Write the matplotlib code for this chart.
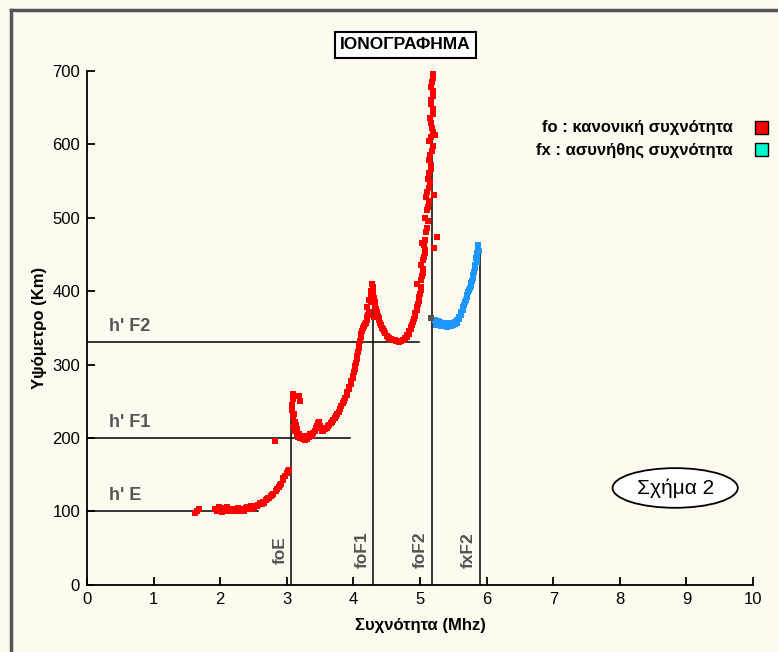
import matplotlib.pyplot as plt
from matplotlib.patches import Ellipse, Rectangle
from matplotlib.lines import Line2D

plt.rcParams['font.family'] = ['Liberation Sans Narrow', 'Liberation Sans', 'DejaVu Sans']

# fo trace (red): frequency in MHz, virtual height in km
fo_f = [1.62, 1.65, 1.68, 1.92, 1.95, 1.98, 2.02, 2.05, 2.08, 2.10, 2.13, 2.16, 2.20, 2.23,
        2.26, 2.30, 2.33, 2.36, 2.40, 2.43, 2.46, 2.50, 2.53, 2.57, 2.60, 2.64, 2.68, 2.72,
        2.76, 2.80, 2.84, 2.88, 2.91, 2.94, 2.97, 3.00, 3.03,
        1.97, 2.00, 2.07, 2.12, 2.18, 2.25, 2.28, 2.35, 2.38, 2.45, 2.48, 2.55, 2.62, 2.66,
        2.70, 2.74, 2.78, 2.86, 2.90, 2.95, 3.02,
        2.82, 3.08, 3.08, 3.09, 3.10, 3.19, 3.20, 3.10, 3.12, 3.10, 3.13, 3.15, 3.17, 3.20,
        3.24, 3.27, 3.30, 3.33, 3.37, 3.40, 3.44, 3.47, 3.50, 3.53, 3.57, 3.60, 3.64, 3.68,
        3.72, 3.76, 3.80, 3.84, 3.88, 3.91, 3.94, 3.97, 4.00, 4.02, 4.04, 4.06, 4.08, 4.10,
        4.12, 4.15, 4.18, 4.20, 4.22, 4.20, 4.23, 4.26, 4.28, 4.29, 4.30, 4.32, 4.33, 4.35,
        4.37, 4.39, 4.41, 4.44, 4.47, 4.50, 4.54, 4.58, 4.62, 4.66, 4.70, 4.74, 4.78, 4.81,
        4.84, 4.87, 4.90, 4.92, 4.95, 4.97, 4.99, 5.01, 4.96, 5.03, 5.05, 5.04, 5.07, 5.06,
        5.25, 5.09, 5.12, 5.10, 5.13, 5.11, 5.15, 5.13, 5.17, 5.15, 5.19, 5.16, 5.18, 5.15,
        5.19, 5.17, 5.20, 5.18, 5.19, 4.24, 4.31,
        3.11, 3.14, 3.16, 3.18, 3.22, 3.26, 3.29, 3.35, 3.38, 3.42, 3.46, 3.49, 3.52, 3.55,
        3.62, 3.66, 3.70, 3.74, 3.78, 3.82, 3.86, 3.90, 3.93, 3.96, 3.99, 4.01, 4.03, 4.05,
        4.07, 4.09, 4.11, 4.13, 4.16, 4.19, 4.21, 4.24, 4.26, 4.27, 4.30, 4.31, 4.34, 4.36,
        4.38, 4.40, 4.43, 4.46, 4.52, 4.56, 4.60, 4.64, 4.68, 4.72, 4.76, 4.80, 4.83, 4.86,
        4.88, 4.91, 4.93, 4.96, 4.98, 5.00, 5.02, 5.01, 5.04, 5.02, 5.06, 5.08, 5.03, 5.08,
        5.11, 5.07, 5.12, 5.09, 5.14, 5.12, 5.16, 5.14, 5.18, 5.13, 5.19, 5.16, 5.20, 5.16,
        5.19, 5.17, 5.20, 5.21, 5.21, 5.22]
fo_h = [98, 101, 103, 104, 100, 106, 99, 103, 101, 106, 102, 104, 100, 103,
        105, 101, 104, 103, 106, 104, 107, 106, 108, 109, 111, 113, 115, 118,
        121, 124, 128, 133, 138, 143, 148, 153, 157,
        102, 104, 105, 100, 103, 101, 104, 101, 105, 103, 104, 107, 110, 112,
        117, 119, 123, 131, 136, 146, 155,
        196, 238, 245, 253, 260, 257, 250, 228, 222, 215, 210, 205, 202, 200,
        198, 197, 199, 202, 205, 207, 214, 220, 216, 210, 212, 214, 218, 222,
        227, 233, 240, 247, 255, 262, 270, 277, 285, 294, 302, 312, 322, 332,
        342, 350, 355, 360, 368, 378, 388, 400, 410, 405, 395, 385, 378, 372,
        366, 360, 354, 348, 343, 339, 336, 334, 333, 332, 332, 333, 336, 340,
        345, 351, 358, 366, 374, 383, 392, 401, 410, 420, 430, 442, 452, 462,
        474, 480, 495, 510, 522, 535, 548, 560, 572, 585, 598, 610, 622, 635,
        648, 660, 672, 684, 696, 372, 365,
        232, 218, 212, 206, 203, 201, 203, 206, 203, 210, 216, 222, 213, 209,
        216, 220, 225, 230, 236, 244, 251, 259, 266, 273, 281, 290, 298, 307,
        317, 327, 337, 346, 352, 357, 364, 372, 385, 395, 402, 390, 375, 369,
        363, 357, 350, 345, 337, 335, 333, 332, 331, 332, 334, 338, 342, 348,
        354, 362, 370, 378, 387, 396, 405, 415, 425, 436, 446, 456, 466, 470,
        486, 500, 515, 528, 540, 553, 566, 578, 591, 604, 616, 628, 641, 654,
        666, 678, 690, 530, 458, 612]

# fx trace (blue)
fx_f = [5.22, 5.25, 5.28, 5.30, 5.33, 5.36, 5.39, 5.42, 5.45, 5.48, 5.50, 5.53, 5.56, 5.59,
        5.62, 5.65, 5.67, 5.70, 5.72, 5.75, 5.77, 5.79, 5.81, 5.83, 5.84, 5.86, 5.87,
        5.24, 5.27, 5.32, 5.35, 5.38, 5.41, 5.44, 5.47, 5.52, 5.55, 5.58, 5.61, 5.64,
        5.66, 5.69, 5.71, 5.74, 5.76, 5.78, 5.80, 5.82, 5.85, 5.86, 5.88, 5.87]
fx_h = [360, 357, 355, 358, 353, 356, 352, 355, 353, 356, 354, 358, 361, 365,
        371, 378, 385, 392, 398, 404, 411, 418, 426, 436, 445, 452, 458,
        354, 359, 352, 353, 357, 351, 356, 352, 355, 357, 362, 368, 374,
        381, 388, 395, 401, 407, 414, 422, 431, 440, 448, 455, 462]

# virtual heights h' (km) and how far the line runs (MHz)
h_names = ["h' E", "h' F1", "h' F2"]
h_vals = [100, 200, 330]
h_ends = [2.57, 3.95, 4.99]

# critical frequencies (MHz) and the height each line reaches
f_names = ['foE', 'foF1', 'foF2', 'fxF2']
f_vals = [3.07, 4.30, 5.18, 5.90]
f_tops = [250, 412, 700, 466]

bg = '#fffaf0'
fig = plt.figure(figsize=(7.78, 6.52), dpi=100, facecolor=bg)
ax = fig.add_axes([0.1118, 0.1028, 0.8562, 0.789])
ax.set_facecolor(bg)

for name, h, end in zip(h_names, h_vals, h_ends):
    ax.plot([0, end], [h, h], color='black', lw=1.1)
    ax.text(0.33, h + 10, name, color='#555555', fontsize=13, fontweight='bold',
            va='bottom', ha='left')

for name, f, top in zip(f_names, f_vals, f_tops):
    ax.plot([f, f], [0, top], color='black', lw=1.1)
    ax.text(f - 0.17, 48, name, color='#555555', fontsize=12.5, fontweight='bold',
            rotation=90, ha='center', va='center')

ax.scatter(fo_f, fo_h, marker='s', s=18, color='#ff0000', linewidths=0, zorder=3)
ax.scatter(fx_f, fx_h, marker='s', s=18, color='#1e96ff', linewidths=0, zorder=3)
ax.scatter([5.17], [363], marker='s', s=22, color='#555555', linewidths=0, zorder=4)

ax.set_xlim(0, 10)
ax.set_ylim(0, 700)
ax.set_xticks(range(0, 11))
ax.set_yticks(range(0, 701, 100))
ax.spines['top'].set_visible(False)
ax.spines['right'].set_visible(False)
ax.spines['left'].set_linewidth(1.3)
ax.spines['bottom'].set_linewidth(1.3)
ax.tick_params(direction='in', length=6, width=1.3, labelsize=12, pad=5)
ax.set_xlabel('Συχνότητα (Mhz)', fontsize=12, fontweight='bold', labelpad=8)
ax.set_ylabel('Υψόμετρο (Km)', fontsize=12, fontweight='bold', labelpad=4)

ell = Ellipse((8.83, 132), 1.88, 54, facecolor='white', edgecolor='black', lw=1.3, zorder=4)
ax.add_patch(ell)
ax.text(8.83, 132, 'Σχήμα 2', fontsize=15, ha='center', va='center', zorder=5)

fig.text(0.5206, 0.931, 'ΙΟΝΟΓΡΑΦΗΜΑ', fontsize=12.5, fontweight='bold', ha='center', va='center',
         bbox=dict(boxstyle='square,pad=0.3', facecolor='white', edgecolor='black', lw=1.5))

fig.text(0.942, 0.804, 'fo : κανονική συχνότητα', fontsize=12, fontweight='bold',
         ha='right', va='center')
fig.text(0.942, 0.770, 'fx : ασυνήθης συχνότητα', fontsize=12, fontweight='bold',
         ha='right', va='center')
fig.add_artist(Rectangle((0.971, 0.795), 0.016, 0.019, transform=fig.transFigure,
                         facecolor='#ff0000', edgecolor='black', lw=1))
fig.add_artist(Rectangle((0.971, 0.761), 0.016, 0.019, transform=fig.transFigure,
                         facecolor='#00f5cc', edgecolor='black', lw=1))

# outer frame (top and left edges only, as in the screenshot)
fig.add_artist(Line2D([0.014, 1.0], [0.985, 0.985], transform=fig.transFigure,
                      color='#555555', lw=2.5))
fig.add_artist(Line2D([0.014, 0.014], [0.0, 0.985], transform=fig.transFigure,
                      color='#555555', lw=2.5))

fig.savefig('out.png', dpi=100, facecolor=bg)
